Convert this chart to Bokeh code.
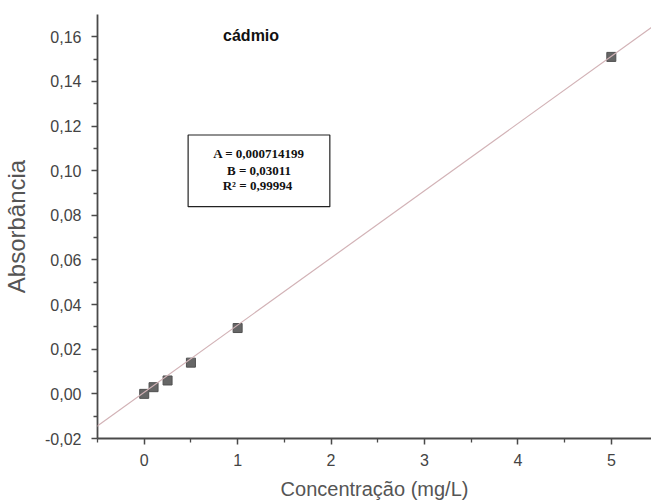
from bokeh.plotting import figure
from bokeh.models import FixedTicker, Slope, BoxAnnotation, Label, Range1d
from bokeh.embed import file_html
from bokeh.resources import INLINE

# Data
conc = [0.0, 0.1, 0.25, 0.5, 1.0, 5.0]
absorb = [0.0, 0.003, 0.006, 0.014, 0.0295, 0.151]
fit_A = 0.000714199
fit_B = 0.03011
fit_R2 = 0.99994

x_ticks = [0, 1, 2, 3, 4, 5]
x_minor = [-0.5, 0.5, 1.5, 2.5, 3.5, 4.5]
y_ticks = [-0.02, 0.0, 0.02, 0.04, 0.06, 0.08, 0.10, 0.12, 0.14, 0.16]
y_labels = ["-0,02", "0,00", "0,02", "0,04", "0,06", "0,08", "0,10", "0,12", "0,14", "0,16"]
y_minor = [-0.01, 0.01, 0.03, 0.05, 0.07, 0.09, 0.11, 0.13, 0.15]

p = figure(width=651, height=502, output_backend="svg", toolbar_location=None,
           x_range=Range1d(-0.5, 5.43), y_range=Range1d(-0.02, 0.17),
           min_border_left=96, min_border_right=0, min_border_top=14, min_border_bottom=62)
p.outline_line_color = None
p.grid.visible = False
p.background_fill_color = "white"
p.border_fill_color = "white"

p.add_layout(Slope(gradient=fit_B, y_intercept=fit_A, line_color="#d2b2b6", line_width=1.2))
p.scatter(conc, absorb, marker="square", size=9, fill_color="#666666", line_color="#505050")

for ax in (p.xaxis[0], p.yaxis[0]):
    ax.axis_line_color = "#4a4a4a"
    ax.axis_line_width = 1.8
    ax.major_tick_line_color = "#4a4a4a"
    ax.minor_tick_line_color = "#4a4a4a"
    ax.major_tick_line_width = 1.5
    ax.minor_tick_line_width = 1.3
    ax.major_tick_in = 0
    ax.major_tick_out = 6
    ax.minor_tick_in = 0
    ax.minor_tick_out = 4
    ax.major_label_text_font = "Liberation Sans"
    ax.major_label_text_font_size = "16px"
    ax.major_label_text_color = "#444444"
    ax.axis_label_text_font = "Liberation Sans"
    ax.axis_label_text_font_style = "normal"
    ax.axis_label_text_color = "#555555"

p.xaxis.ticker = FixedTicker(ticks=x_ticks, minor_ticks=x_minor)
p.yaxis.ticker = FixedTicker(ticks=y_ticks, minor_ticks=y_minor)
p.yaxis.major_label_overrides = {t: l for t, l in zip(y_ticks, y_labels)}
p.xaxis.major_label_standoff = 9
p.yaxis.major_label_standoff = 10
p.xaxis.axis_label = "Concentração (mg/L)"
p.yaxis.axis_label = "Absorbância"
p.xaxis.axis_label_text_font_size = "20px"
p.yaxis.axis_label_text_font_size = "24px"
p.xaxis.axis_label_standoff = 9
p.yaxis.axis_label_standoff = 12

p.add_layout(Label(x=0.844, y=0.1606, text="cádmio", text_font="Liberation Sans",
                   text_font_style="bold", text_font_size="16px", text_color="#111111",
                   text_baseline="middle", text_align="left"))

p.add_layout(BoxAnnotation(left=0.47, right=1.987, top=0.116, bottom=0.0839,
                           fill_color="white", fill_alpha=1.0, line_color="#222222",
                           line_width=1.2, line_alpha=1.0))
box_lines = ["A = 0,000714199", "B = 0,03011", "R²  = 0,99994"]
for txt, yy in zip(box_lines, [0.1075, 0.1003, 0.0932]):
    p.add_layout(Label(x=1.229, y=yy, text=txt, text_font="Liberation Serif",
                       text_font_style="bold", text_font_size="13px", text_color="#111111",
                       text_baseline="middle", text_align="center"))

open("out.html", "w").write(file_html(p, INLINE))
